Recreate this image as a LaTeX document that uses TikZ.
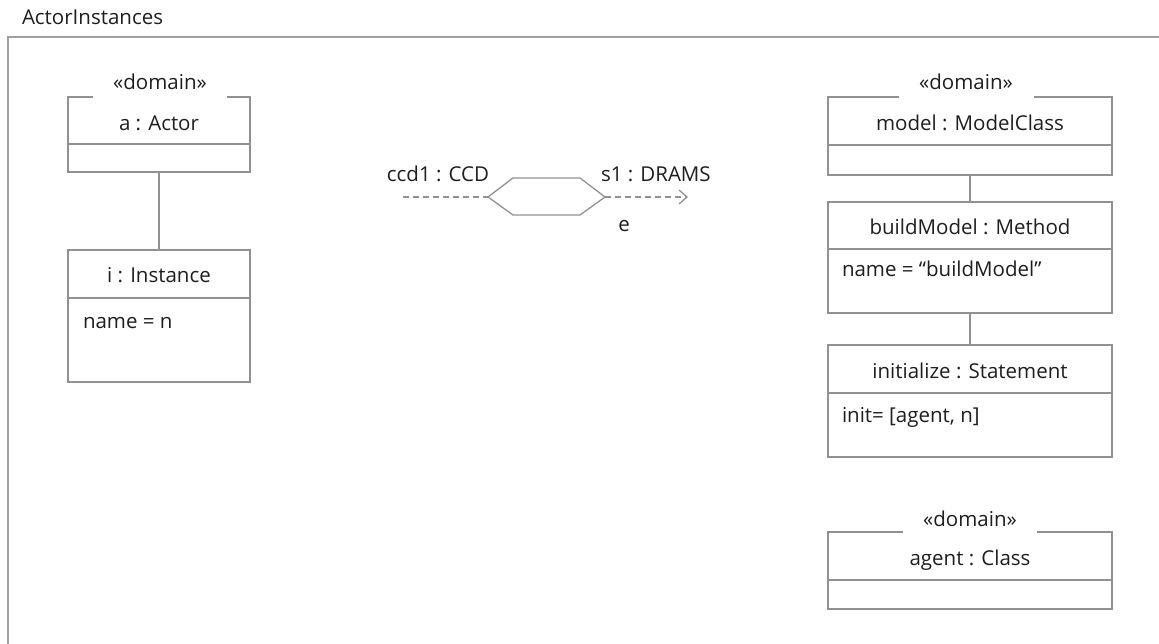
\documentclass[tikz,border=0pt]{standalone}
\usepackage{fontspec}
\setmainfont{Open Sans}
\usetikzlibrary{arrows.meta}
\definecolor{ln}{RGB}{145,145,145}
\definecolor{fr}{RGB}{160,160,160}
\definecolor{tx}{RGB}{30,30,30}
\begin{document}
\begin{tikzpicture}[x=1pt,y=-1pt,
  every node/.style={text=tx, font=\fontsize{20.5}{24}\selectfont, inner sep=0pt, outer sep=0pt},
  objbox/.style={draw=ln, line width=1.6pt, minimum width=#1, anchor=north west, rectangle},
  gap/.style={fill=white, minimum width=#1, minimum height=5pt},
  conn/.style={draw=ln, line width=1.6pt},
  dashline/.style={draw=ln, line width=1.3pt, dash pattern=on 6pt off 4pt},
  head/.style={anchor=base},
  attr/.style={anchor=base west}]
\useasboundingbox (0,0) rectangle (1159,644);
% frame
\draw[fr, line width=1.6pt] (8,650) -- (8,37) -- (1165,37);
\node[anchor=base west] (title) at (22,25) {ActorInstances};

% a : Actor
\node[objbox=182, minimum height=75] (a) at (68,97) {};
\draw[conn] (68,144) -- (250,144);
\node[gap=134] (ga) at (160,97) {};
\node[head] (sa) at (160,90) {«domain»};
\node[head] (ta) at (159,131) {a : Actor};

% i : Instance
\node[objbox=182, minimum height=132] (i) at (68,250) {};
\draw[conn] (68,298) -- (250,298);
\node[head] (ti) at (159,283) {i : Instance};
\node[attr] (ni) at (83,328) {name = n};
\draw[conn] (a.south) -- (i.north);

% hexagon
\coordinate (hl) at (488,197);
\coordinate (hr) at (605,197);
\draw[ln, line width=1.3pt] (hl) -- (513,178) -- (580,178) -- (hr) -- (580,215) -- (513,215) -- cycle;
\coordinate (ls) at (403,197);
\coordinate (le) at (688,197);
\draw[dashline] (ls) -- (hl);
\draw[dashline, -{Straight Barb[length=8pt,width=14pt,line width=1.3pt]}] (hr) -- (le);
\node[anchor=base] (lc) at (438,182) {ccd1 : CCD};
\node[anchor=base west] (ls1) at (601,182) {s1 : DRAMS};
\node[anchor=base] (le1) at (624,232) {e};

% model : ModelClass
\node[objbox=284, minimum height=78] (m) at (828,97) {};
\draw[conn] (828,145) -- (1112,145);
\node[gap=135] (gm) at (966,97) {};
\node[head] (sm) at (966,90) {«domain»};
\node[head] (tm) at (970,131) {model : ModelClass};

% buildModel : Method
\node[objbox=284, minimum height=111] (b) at (828,202) {};
\draw[conn] (828,249) -- (1112,249);
\node[head] (tb) at (970,235) {buildModel : Method};
\node[attr] (nb) at (842,277) {name = “buildModel”};
\draw[conn] (m.south) -- (b.north);

% initialize : Statement
\node[objbox=284, minimum height=112] (s) at (828,345) {};
\draw[conn] (828,393) -- (1112,393);
\node[head] (ts) at (970,378) {initialize : Statement};
\node[attr] (ns) at (842,422) {init= [agent, n]};
\draw[conn] (b.south) -- (s.north);

% agent : Class
\node[objbox=284, minimum height=77] (g) at (828,532) {};
\draw[conn] (828,580) -- (1112,580);
\node[gap=134] (gg) at (970,532) {};
\node[head] (sg) at (970,526) {«domain»};
\node[head] (tg) at (970,565) {agent : Class};
\end{tikzpicture}
\end{document}
